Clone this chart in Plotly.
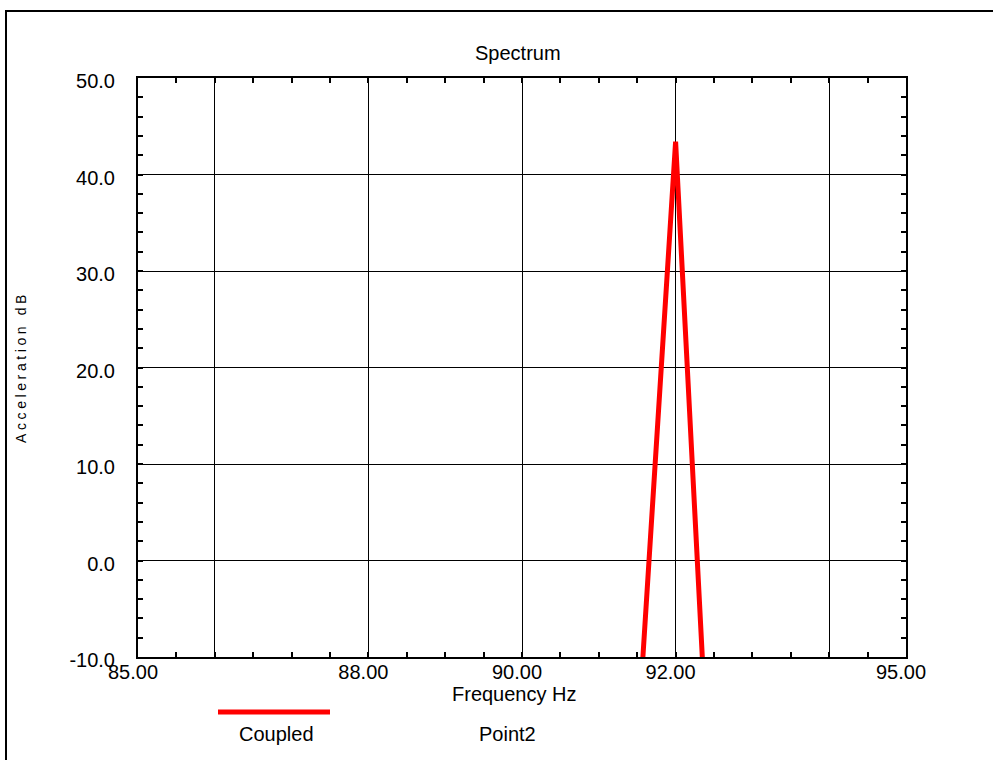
import plotly.graph_objects as go

# Data
freq_hz = [91.5, 92.0, 92.5]
accel_db = [-19.3, 43.4, -33.4]
series_name = "Coupled"
point_name = "Point2"
x_tick_vals = [85, 88, 90, 92, 95]
x_tick_text = ["85.00", "88.00", "90.00", "92.00", "95.00"]
y_tick_vals = [-10, 0, 10, 20, 30, 40, 50]
y_tick_text = ["-10.0", "0.0", "10.0", "20.0", "30.0", "40.0", "50.0"]

FONT = "Liberation Sans, Arial, sans-serif"
L, R, T, B = 138, 87, 78, 103
W, H = 993, 760
pw, ph = W - L - R, H - T - B

def px(x):
    return (x - L) / pw

def py(y):
    return (H - B - y) / ph

fig = go.Figure()
fig.add_trace(go.Scatter(x=freq_hz, y=accel_db, mode="lines", name=series_name,
                         line=dict(color="#ff0000", width=5), showlegend=False))
# invisible trace to activate the grid/tick axis
fig.add_trace(go.Scatter(x=[85, 95], y=[0, 0], mode="markers", xaxis="x2",
                         marker=dict(opacity=0), showlegend=False, hoverinfo="skip"))

fig.update_layout(
    width=W, height=H,
    margin=dict(l=L, r=R, t=T, b=B),
    paper_bgcolor="white", plot_bgcolor="white",
    font=dict(family=FONT, size=20, color="black"),
    xaxis=dict(range=[85, 95], tickvals=x_tick_vals, ticktext=x_tick_text,
               ticks="", showgrid=False, zeroline=False, showline=True,
               linecolor="black", linewidth=2, mirror=True,
               tickfont=dict(size=20), ticklabelshift=-5, ticklabelstandoff=-4),
    xaxis2=dict(range=[85, 95], overlaying="x", side="bottom", matches="x",
                showticklabels=False, tick0=86, dtick=2, showgrid=True,
                gridcolor="black", gridwidth=1, zeroline=False, showline=False,
                ticks="inside", ticklen=5, tickcolor="black", tickwidth=2,
                mirror="allticks",
                minor=dict(dtick=0.5, tick0=85, ticks="inside", ticklen=5,
                           tickcolor="black", tickwidth=2, showgrid=False)),
    yaxis=dict(range=[-10, 50], tickvals=y_tick_vals, ticktext=y_tick_text,
               showgrid=True, gridcolor="black", gridwidth=1, zeroline=False,
               showline=True, linecolor="black", linewidth=2, mirror="allticks",
               ticks="inside", ticklen=5, tickcolor="black", tickwidth=2,
               tickfont=dict(size=20), ticklabelstandoff=17, ticklabelshift=3,
               minor=dict(dtick=2, ticks="inside", ticklen=5, tickcolor="black",
                          tickwidth=2, showgrid=False)),
)

ann = [
    dict(text="Spectrum", x=px(518), y=py(53), size=20),
    dict(text="Frequency Hz", x=px(514), y=py(694), size=20),
    dict(text=series_name, x=px(276), y=py(734), size=20),
    dict(text=point_name, x=px(507), y=py(734), size=20),
]
for a in ann:
    fig.add_annotation(text=a["text"], x=a["x"], y=a["y"], xref="paper", yref="paper",
                       showarrow=False, xanchor="center", yanchor="middle",
                       font=dict(family=FONT, size=a["size"], color="black"))

fig.add_annotation(text='<span style="letter-spacing:3.6px">Acceleration dB</span>',
                   x=px(21), y=py(367), xref="paper", yref="paper",
                   showarrow=False, textangle=-90, xanchor="center", yanchor="middle",
                   font=dict(family=FONT, size=14, color="black"))

# legend line sample
fig.add_shape(type="line", xref="paper", yref="paper", x0=px(218), x1=px(330),
              y0=py(712), y1=py(712), line=dict(color="#ff0000", width=5))
# outer frame
fig.add_shape(type="rect", xref="paper", yref="paper", x0=px(6), x1=px(1010),
              y0=py(780), y1=py(11), line=dict(color="black", width=2))

fig.write_html("out.html")
